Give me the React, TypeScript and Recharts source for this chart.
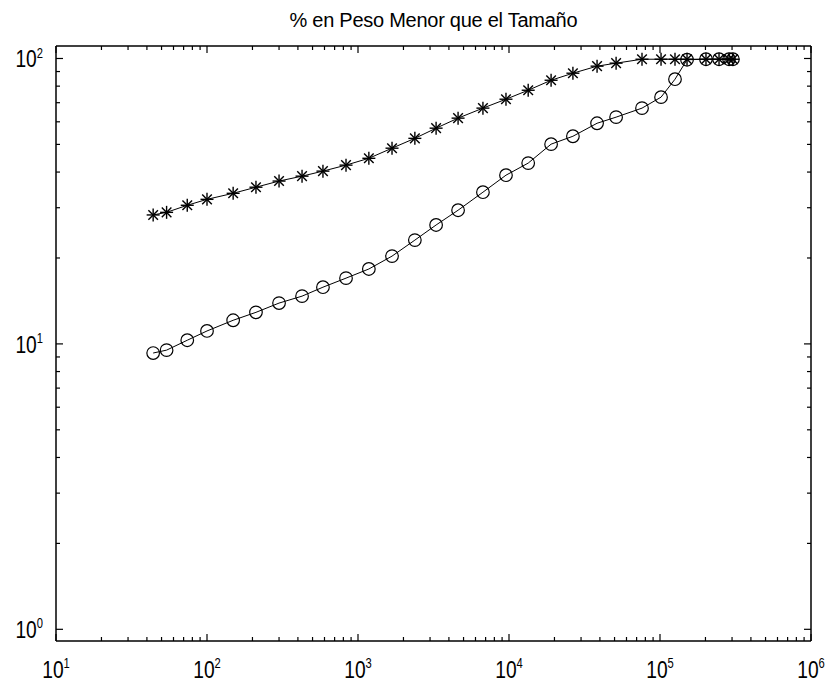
import React from 'react';
import { LineChart, Line, XAxis, YAxis } from 'recharts';

// tamaño (eje x, escala log)
const tamano = [
  44, 54, 74, 100, 149, 211, 300, 426, 586, 833,
  1180, 1680, 2380, 3290, 4600, 6720, 9550, 13400, 19000, 26500,
  38300, 51200, 76000, 101600, 125700, 151000, 201600, 246000, 286600, 304000,
];

// % en peso menor, curva con asteriscos
const pasanteAsterisco = [
  28.3, 28.9, 30.6, 32.1, 33.7, 35.4, 37.2, 38.7, 40.3, 42.3,
  44.7, 48.5, 52.5, 57.0, 61.8, 67.0, 72.0, 77.4, 83.9, 88.8,
  94.0, 96.3, 99.4, 99.4, 99.4, 99.4, 99.4, 99.4, 99.4, 99.4,
];

// % en peso menor, curva con círculos
const pasanteCirculo = [
  9.29, 9.51, 10.3, 11.1, 12.1, 12.9, 13.9, 14.7, 15.8, 17.0,
  18.3, 20.3, 23.1, 26.1, 29.4, 34.0, 39.0, 43.0, 50.1, 53.4,
  59.3, 62.3, 67.0, 73.2, 84.6, 99.0, 99.4, 99.4, 99.4, 99.4,
];

const decadasX = [10, 100, 1000, 10000, 100000, 1000000];
const exponentesX = ['1', '2', '3', '4', '5', '6'];
const decadasY = [1, 10, 100];
const exponentesY = ['0', '1', '2'];

const titulo = '% en Peso Menor que el Tamaño';

const filas = tamano.map((t, i) => ({
  tamano: t,
  asterisco: pasanteAsterisco[i],
  circulo: pasanteCirculo[i],
}));

// ticks menores 2..9 dentro de cada década
const menores = (decadas: number[]) =>
  decadas.slice(0, -1).flatMap((d) => [2, 3, 4, 5, 6, 7, 8, 9].map((k) => d * k));

const ticksX = [...decadasX, ...menores(decadasX)].sort((a, b) => a - b);
const ticksY = [...decadasY, ...menores(decadasY)].sort((a, b) => a - b);

const FUENTE = '"Liberation Sans", Arial, Helvetica, sans-serif';

type Lado = 'bottom' | 'top' | 'left' | 'right';

const Potencia = ({ base, exp, anchor }: { base: number; exp: string; anchor: 'middle' | 'end' }) => (
  <g transform={`scale(0.8,1)`}>
    <text x={0} y={base} textAnchor={anchor} fontFamily={FUENTE} fontSize={24} fill="#000">
      10
      <tspan dy={-10} fontSize={14}>{exp}</tspan>
    </text>
  </g>
);

const MarcaEje = (props: any) => {
  const { x, y, payload, lado } = props as { x: number; y: number; payload: { value: number }; lado: Lado };
  const v = payload.value;
  const esX = lado === 'bottom' || lado === 'top';
  const decadas = esX ? decadasX : decadasY;
  const idx = decadas.indexOf(v);
  const mayor = idx >= 0;
  const largo = mayor ? 7 : 4;
  let linea;
  if (lado === 'bottom') linea = <line x1={x} y1={y} x2={x} y2={y - largo} />;
  else if (lado === 'top') linea = <line x1={x} y1={y} x2={x} y2={y + largo} />;
  else if (lado === 'left') linea = <line x1={x} y1={y} x2={x + largo} y2={y} />;
  else linea = <line x1={x} y1={y} x2={x - largo} y2={y} />;

  return (
    <g>
      <g stroke="#000" strokeWidth={1.2}>{linea}</g>
      {mayor && lado === 'bottom' && (
        <g transform={`translate(${x},${y})`}>
          <Potencia base={37} exp={exponentesX[idx]} anchor="middle" />
        </g>
      )}
      {mayor && lado === 'left' && (
        <g transform={`translate(${x - 13},${y})`}>
          <Potencia base={9} exp={exponentesY[idx]} anchor="end" />
        </g>
      )}
    </g>
  );
};

const Asterisco = (props: any) => {
  const { cx, cy, index } = props;
  if (cx == null || cy == null) return <g key={`a-${index}`} />;
  const r = 6.5;
  const d = 4.8;
  return (
    <g key={`a-${index}`} stroke="#000" strokeWidth={1.4}>
      <line x1={cx - r} y1={cy} x2={cx + r} y2={cy} />
      <line x1={cx} y1={cy - r} x2={cx} y2={cy + r} />
      <line x1={cx - d} y1={cy - d} x2={cx + d} y2={cy + d} />
      <line x1={cx - d} y1={cy + d} x2={cx + d} y2={cy - d} />
    </g>
  );
};

const Circulo = (props: any) => {
  const { cx, cy, index } = props;
  if (cx == null || cy == null) return <g key={`c-${index}`} />;
  return <circle key={`c-${index}`} cx={cx} cy={cy} r={6.3} fill="none" stroke="#000" strokeWidth={1.2} />;
};

const ejeLinea = { stroke: '#000', strokeWidth: 1.5 };

export default function App() {
  return (
    <div style={{ width: 828, height: 683, background: '#fff', position: 'relative' }}>
      <style>{`body{margin:0;background:#fff}`}</style>
      <LineChart
        width={828}
        height={683}
        data={filas}
        margin={{ top: 40, right: 12, bottom: 12, left: 16 }}
      >
        <text x={433.5} y={27} textAnchor="middle" fontFamily={FUENTE} fontSize={20} textLength={288} fill="#000">
          {titulo}
        </text>
        <XAxis
          xAxisId="bottom"
          dataKey="tamano"
          type="number"
          scale="log"
          domain={[10, 1000000]}
          allowDataOverflow
          ticks={ticksX}
          interval={0}
          height={30}
          tickSize={0}
          tickMargin={0}
          axisLine={ejeLinea}
          tickLine={false}
          tick={(p: any) => <MarcaEje {...p} lado="bottom" />}
        />
        <XAxis
          xAxisId="top"
          orientation="top"
          dataKey="tamano"
          type="number"
          scale="log"
          domain={[10, 1000000]}
          allowDataOverflow
          ticks={ticksX}
          interval={0}
          height={6}
          tickSize={0}
          tickMargin={0}
          axisLine={ejeLinea}
          tickLine={false}
          tick={(p: any) => <MarcaEje {...p} lado="top" />}
        />
        <YAxis
          yAxisId="left"
          type="number"
          scale="log"
          domain={[0.91, 110.6]}
          allowDataOverflow
          ticks={ticksY}
          interval={0}
          width={40}
          tickSize={0}
          tickMargin={0}
          axisLine={ejeLinea}
          tickLine={false}
          tick={(p: any) => <MarcaEje {...p} lado="left" />}
        />
        <YAxis
          yAxisId="right"
          orientation="right"
          type="number"
          scale="log"
          domain={[0.91, 110.6]}
          allowDataOverflow
          ticks={ticksY}
          interval={0}
          width={5}
          tickSize={0}
          tickMargin={0}
          axisLine={ejeLinea}
          tickLine={false}
          tick={(p: any) => <MarcaEje {...p} lado="right" />}
        />
        <Line
          xAxisId="bottom"
          yAxisId="left"
          type="linear"
          dataKey="asterisco"
          stroke="#000"
          strokeWidth={1}
          dot={Asterisco}
          activeDot={false}
          isAnimationActive={false}
        />
        <Line
          xAxisId="bottom"
          yAxisId="left"
          type="linear"
          dataKey="circulo"
          stroke="#000"
          strokeWidth={1}
          dot={Circulo}
          activeDot={false}
          isAnimationActive={false}
        />
      </LineChart>
    </div>
  );
}
